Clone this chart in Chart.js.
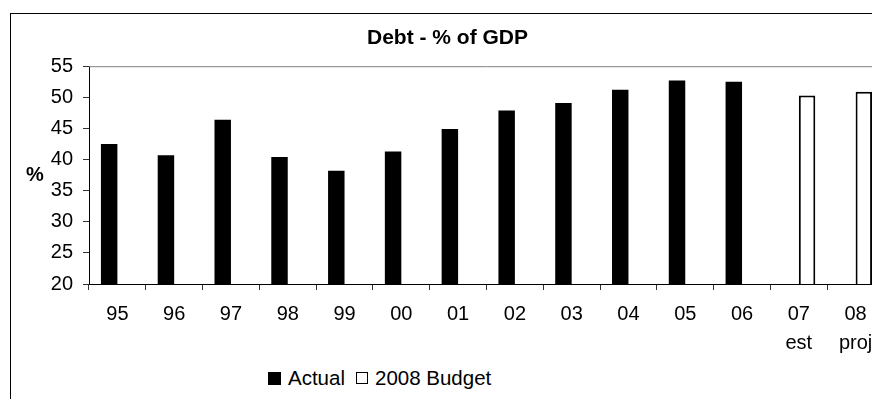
<!DOCTYPE html>
<html>
<head>
<meta charset="utf-8">
<title>Debt - % of GDP</title>
<script src="https://cdn.jsdelivr.net/npm/chart.js@4.4.1/dist/chart.umd.min.js"></script>
<style>
  html, body { margin: 0; padding: 0; background: #fff; overflow: hidden; }
  body { width: 872px; height: 399px; position: relative; font-family: "Liberation Sans", Arial, sans-serif; }
  /* chart frame runs past the right and bottom edge of the picture */
  #frame { position: absolute; left: 10px; top: 13px; width: 900px; height: 420px; border-left: 1px solid #000; border-top: 1px solid #000; }
  #debt-chart { position: absolute; left: 0; top: 0; }
  #legend { position: absolute; left: 257px; top: 353px; height: 22px; display: flex; align-items: center; font-size: 20.5px; color: #000; white-space: nowrap; }
  #legend .item { display: flex; align-items: center; margin-right: 11px; }
  #legend .box { display: inline-block; box-sizing: border-box; margin-right: 7px; }
</style>
</head>
<body>
<div id="frame">
  <canvas id="debt-chart" width="890" height="350"></canvas>
  <div id="legend"></div>
</div>
<script>
const chartTitle = 'Debt - % of GDP';
const yTitle = '%';
const years = ['95', '96', '97', '98', '99', '00', '01', '02', '03', '04', '05', '06', ['07', 'est'], ['08', 'proj']];
const actual = [42.5, 40.7, 46.4, 40.4, 38.2, 41.3, 44.9, 47.9, 49.1, 51.2, 52.7, 52.5, null, null];
const budget2008 = [null, null, null, null, null, null, null, null, null, null, null, null, 50.3, 50.9];
const yMin = 20;
const yMax = 55;
const yStep = 5;

const FONT = '"Liberation Sans", Arial, sans-serif';

// "%" sits level, left of the axis, and the plot has a grey top edge
const plotExtras = {
    id: 'plotExtras',
    afterDraw(chart) {
        const { ctx, chartArea } = chart;
        ctx.save();
        ctx.strokeStyle = '#808080';
        ctx.lineWidth = 1;
        ctx.beginPath();
        ctx.moveTo(chartArea.left, chartArea.top + 0.5);
        ctx.lineTo(chartArea.right, chartArea.top + 0.5);
        ctx.stroke();
        ctx.font = 'bold 20px ' + FONT;
        ctx.fillStyle = '#000';
        ctx.textAlign = 'center';
        ctx.textBaseline = 'middle';
        ctx.fillText(yTitle, 24, (chartArea.top + chartArea.bottom) / 2);
        ctx.restore();
    }
};

// legend as html, built from the datasets
const htmlLegend = {
    id: 'htmlLegend',
    afterUpdate(chart) {
        const box = document.getElementById('legend');
        box.innerHTML = '';
        chart.data.datasets.forEach((ds) => {
            const item = document.createElement('span');
            item.className = 'item';
            const sw = document.createElement('span');
            sw.className = 'box';
            const size = ds.backgroundColor === '#000' ? 13 : 12;
            sw.style.width = size + 'px';
            sw.style.height = size + 'px';
            sw.style.background = ds.backgroundColor;
            sw.style.border = '1px solid ' + ds.borderColor;
            const txt = document.createElement('span');
            txt.textContent = ds.label;
            item.appendChild(sw);
            item.appendChild(txt);
            box.appendChild(item);
        });
    }
};

new Chart(document.getElementById('debt-chart'), {
    type: 'bar',
    data: {
        labels: years,
        datasets: [
            {
                label: 'Actual',
                data: actual,
                backgroundColor: '#000',
                borderColor: '#000',
                borderWidth: 0,
                barPercentage: 1,
                categoryPercentage: 0.58,
            },
            {
                label: '2008 Budget',
                data: budget2008,
                backgroundColor: '#fff',
                borderColor: '#000',
                borderWidth: 2,
                barPercentage: 1,
                categoryPercentage: 0.58,
            },
        ],
    },
    options: {
        responsive: false,
        animation: false,
        layout: { padding: { left: 0, right: 17, top: 0, bottom: 0 } },
        plugins: {
            legend: { display: false },
            tooltip: { enabled: false },
            title: {
                display: true,
                text: chartTitle,
                color: '#000',
                font: { family: FONT, size: 21, weight: 'bold' },
                padding: { top: 12, bottom: 15 },
            },
        },
        scales: {
            x: {
                grid: { offset: true, drawOnChartArea: false, tickLength: 6, color: '#333' },
                border: { color: '#000' },
                ticks: {
                    color: '#000',
                    font: { family: FONT, size: 20, lineHeight: 1.45 },
                    padding: 10,
                    maxRotation: 0,
                    autoSkip: false,
                },
                afterFit(scale) { scale.height = 80; },
            },
            y: {
                min: yMin,
                max: yMax,
                grid: { drawOnChartArea: false, tickLength: 6, color: '#333' },
                border: { color: '#000' },
                ticks: {
                    stepSize: yStep,
                    color: '#000',
                    padding: 10,
                    font: { family: FONT, size: 20 },
                },
                afterFit(scale) { scale.width = 78; },
            },
        },
    },
    plugins: [plotExtras, htmlLegend],
});
</script>
</body>
</html>
